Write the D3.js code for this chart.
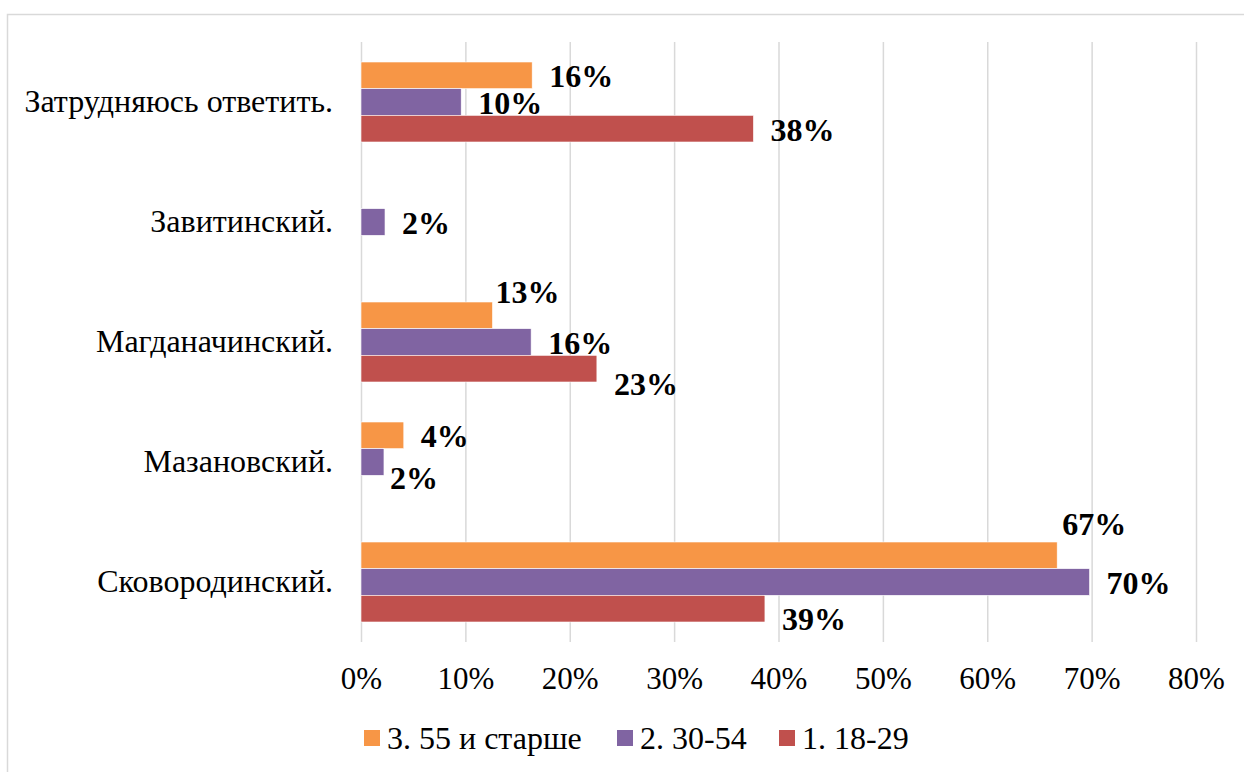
<!DOCTYPE html>
<meta charset="utf-8">
<body style="margin:0;background:#fff">

<svg width="1244" height="772"></svg>

<script src="https://d3js.org/d3.v7.min.js"></script>
<script>

// districts, top to bottom
var categories = ['Затрудняюсь ответить.', 'Завитинский.', 'Магданачинский.', 'Мазановский.', 'Сковородинский.'];

// series (legend order)
var seriesNames = ['3. 55 и старше', '2. 30-54', '1. 18-29'];
var age55 = [16.4, null, 12.6, 4.1, 66.7];
var age30 = [9.6, 2.3, 16.3, 2.2, 69.8];
var age18 = [37.6, null, 22.6, null, 38.7];

var xTicks = [0, 10, 20, 30, 40, 50, 60, 70, 80];

var colors = ['#F79646', '#8064A2', '#C0504D'];

// Excel moved a few labels out of the way of the neighbouring bars
var labelNudge = {
  '2-0': [-14, -24],
  '3-1': [-11, 15],
  '2-2': [0, 14],
  '4-0': [-12, -32],
  '4-2': [0, 9]
};

var svg = d3.select('svg');
var font = '"Liberation Serif", "Times New Roman", serif';

// chart frame
svg.append('rect')
  .attr('x', 7.5).attr('y', 14.5)
  .attr('width', 1300).attr('height', 800)
  .attr('fill', 'none').attr('stroke', '#d9d9d9').attr('stroke-width', 1.5);

var x = d3.scaleLinear().domain([0, 80]).range([361, 1196]);
var y = d3.scaleBand().domain(categories).range([42, 642]).paddingInner(1/3).paddingOuter(1/6);
var ySub = d3.scaleBand().domain(d3.range(seriesNames.length)).range([0, y.bandwidth()]);

// grid
svg.append('g')
  .attr('transform', 'translate(0,642)')
  .call(d3.axisBottom(x).tickValues(xTicks).tickSize(-600).tickFormat(function(d) { return d + '%'; }))
  .call(function(g) {
    g.select('.domain').remove();
    g.selectAll('.tick line').attr('stroke', '#d9d9d9').attr('stroke-width', 1.5);
    g.selectAll('.tick text')
      .attr('y', 47).attr('dy', 0)
      .attr('font-family', font).attr('font-size', 31).attr('fill', '#000');
  });

// category labels
svg.append('g').selectAll('text')
  .data(categories).enter().append('text')
  .attr('x', 333)
  .attr('y', function(d) { return y(d) + y.bandwidth() / 2 + 10; })
  .attr('text-anchor', 'end')
  .attr('font-family', font).attr('font-size', 32)
  .text(function(d) { return d; });

var series = [age55, age30, age18];
var bars = [];
series.forEach(function(vals, s) {
  vals.forEach(function(v, c) {
    if (v != null) bars.push({ s: s, c: c, v: v });
  });
});

svg.append('g').selectAll('rect')
  .data(bars).enter().append('rect')
  .attr('x', x(0))
  .attr('y', function(d) { return y(categories[d.c]) + ySub(d.s); })
  .attr('width', function(d) { return x(d.v) - x(0); })
  .attr('height', ySub.bandwidth())
  .attr('fill', function(d) { return colors[d.s]; })
  .attr('stroke', '#fff').attr('stroke-width', 0.6);

svg.append('g').selectAll('text')
  .data(bars).enter().append('text')
  .attr('x', function(d) {
    var n = labelNudge[d.c + '-' + d.s] || [0, 0];
    return x(d.v) + 17 + n[0];
  })
  .attr('y', function(d) {
    var n = labelNudge[d.c + '-' + d.s] || [0, 0];
    return y(categories[d.c]) + ySub(d.s) + ySub.bandwidth() / 2 + 12 + n[1];
  })
  .attr('font-family', font).attr('font-size', 32).attr('font-weight', 'bold')
  .text(function(d) { return Math.round(d.v) + '%'; });

// legend
var legendX = [364, 617, 779];
var legend = svg.append('g').selectAll('g')
  .data(seriesNames).enter().append('g')
  .attr('transform', function(d, i) { return 'translate(' + legendX[i] + ',730)'; });
legend.append('rect')
  .attr('width', 16).attr('height', 16)
  .attr('fill', function(d, i) { return colors[i]; });
legend.append('text')
  .attr('x', 23).attr('y', 19)
  .attr('font-family', font).attr('font-size', 32)
  .text(function(d) { return d; });

</script>
